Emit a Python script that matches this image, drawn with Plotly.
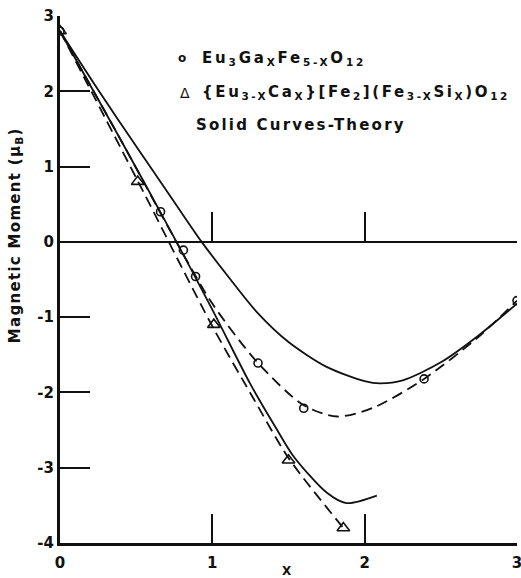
import plotly.graph_objects as go

# Measured data points
ga_x = [0.0, 0.66, 0.81, 0.89, 1.30, 1.60, 2.39, 3.00]
ga_y = [2.80, 0.40, -0.11, -0.46, -1.61, -2.21, -1.82, -0.78]
ca_x = [0.0, 0.51, 1.01, 1.50, 1.86]
ca_y = [2.80, 0.80, -1.10, -2.90, -3.80]

# Dashed experimental curves
ga_fit_x = [0.0, 0.4, 0.75, 1.0, 1.3, 1.6, 1.82, 2.06, 2.39, 2.76, 3.0]
ga_fit_y = [2.8, 1.35, 0.05, -0.82, -1.61, -2.17, -2.32, -2.20, -1.82, -1.24, -0.78]
ca_fit_x = [0.0, 0.5, 1.0, 1.27, 1.5, 1.86]
ca_fit_y = [2.8, 0.85, -1.12, -2.08, -2.87, -3.80]

# Solid theory curves
th_ga_x = [0.0, 0.25, 0.5, 0.75, 0.93, 1.1, 1.3, 1.5, 1.75, 2.0, 2.1, 2.25, 2.5, 2.75, 3.0]
th_ga_y = [2.8, 2.02, 1.27, 0.53, 0.0, -0.45, -0.95, -1.33, -1.66, -1.85, -1.88, -1.84, -1.6, -1.24, -0.82]
th_ca_x = [0.0, 0.4, 0.725, 1.0, 1.25, 1.42, 1.53, 1.75, 1.88, 2.08]
th_ca_y = [2.8, 1.35, 0.15, -0.9, -1.89, -2.48, -2.84, -3.33, -3.47, -3.37]

x_ticks = [0, 1, 2, 3]
x_tick_labels = ["0", "1", "2", "3"]
y_ticks = [-4, -3, -2, -1, 0, 1, 2, 3]
y_tick_labels = ["-4", "-3", "-2", "-1", "0", "1", "2", "3"]
zero_ticks = [1, 2, 3]

INK = "#111111"
FONT = "DejaVu Sans"

fig = go.Figure()
line_style = dict(color=INK, width=1.8, shape="spline", smoothing=0.8)
fig.add_trace(go.Scatter(x=th_ga_x, y=th_ga_y, mode="lines", line=line_style))
fig.add_trace(go.Scatter(x=th_ca_x, y=th_ca_y, mode="lines", line=line_style))
dash_style = dict(color=INK, width=1.8, shape="spline", smoothing=0.8, dash="11px,6px")
fig.add_trace(go.Scatter(x=ga_fit_x, y=ga_fit_y, mode="lines", line=dash_style))
fig.add_trace(go.Scatter(x=ca_fit_x, y=ca_fit_y, mode="lines", line=dash_style))
fig.add_trace(go.Scatter(x=ga_x, y=ga_y, mode="markers",
                         marker=dict(symbol="circle-open", size=8, color=INK, line=dict(width=1.6))))
fig.add_trace(go.Scatter(x=ca_x, y=ca_y, mode="markers",
                         marker=dict(symbol="triangle-up-open", size=11, color=INK, line=dict(width=1.6))))

tickfont = dict(family=FONT, size=15, color=INK, weight="bold")
fig.update_layout(
    width=521, height=578,
    margin=dict(l=60, r=4, t=16, b=35, autoexpand=False),
    paper_bgcolor="white", plot_bgcolor="white",
    showlegend=False,
    xaxis=dict(range=[0, 3], showgrid=False, zeroline=False, showline=True, linewidth=3,
               linecolor=INK, ticks="inside", ticklen=29, tickwidth=1.6, tickcolor=INK,
               tickvals=x_ticks, ticktext=x_tick_labels, tickfont=tickfont, ticklabelstandoff=4,
               ticklabeloverflow="allow", automargin=False),
    xaxis2=dict(range=[0, 3], overlaying="x", anchor="free", position=4/7, showgrid=False,
                zeroline=False, showline=True, linewidth=1.6, linecolor=INK, ticks="inside",
                ticklen=29, tickwidth=1.6, tickcolor=INK, tickvals=zero_ticks, showticklabels=False,
                automargin=False),
    yaxis=dict(range=[-4, 3], showgrid=False, zeroline=False, showline=True, linewidth=3,
               linecolor=INK, ticks="inside", ticklen=30, tickwidth=1.6, tickcolor=INK,
               tickvals=y_ticks, ticktext=y_tick_labels, tickfont=tickfont, ticklabelstandoff=0,
               ticklabeloverflow="allow", automargin=False),
)
# invisible trace to activate the zero-line axis
fig.add_trace(go.Scatter(x=[0], y=[0], xaxis="x2", mode="markers", marker=dict(opacity=0), hoverinfo="skip"))

def spaced(txt, px):
    return '<span style="letter-spacing:%spx">%s</span>' % (px, txt)

afont = dict(family=FONT, size=15, color=INK, weight="bold")
ann = [
    dict(x=0.267, y=0.920, text="o", xanchor="center", yanchor="middle", font=dict(family=FONT, size=12, color=INK, weight="bold")),
    dict(x=0.306, y=0.920, text=spaced("Eu<sub>3</sub>Ga<sub>X</sub>Fe<sub>5-X</sub>O<sub>12</sub>", 2.8),
         xanchor="left", yanchor="middle"),
    dict(x=0.2735, y=0.854, text="Δ", xanchor="center", yanchor="middle", font=dict(family=FONT, size=14, color=INK)),
    dict(x=0.306, y=0.854,
         text=spaced("{Eu<sub>3-X</sub>Ca<sub>X</sub>}[Fe<sub>2</sub>](Fe<sub>3-X</sub>Si<sub>X</sub>)O<sub>12</sub>", 2.6),
         xanchor="left", yanchor="middle"),
    dict(x=0.293, y=0.793, text=spaced("Solid Curves-Theory", 2.2), xanchor="left", yanchor="middle"),
    dict(x=-0.0985, y=0.584, text=spaced("Magnetic Moment (μ<sub>B</sub>)", 1.3), textangle=-90,
         xanchor="center", yanchor="middle"),
    dict(x=0.497, y=-0.053, text="X", xanchor="center", yanchor="middle", font=dict(family=FONT, size=12, color=INK, weight="bold")),
]
for a in ann:
    a.setdefault("font", afont)
    a.update(xref="paper", yref="paper", showarrow=False)
    fig.add_annotation(**a)

fig.write_html("out.html", config={"displayModeBar": False},
               post_script="document.body.style.margin='0';")
